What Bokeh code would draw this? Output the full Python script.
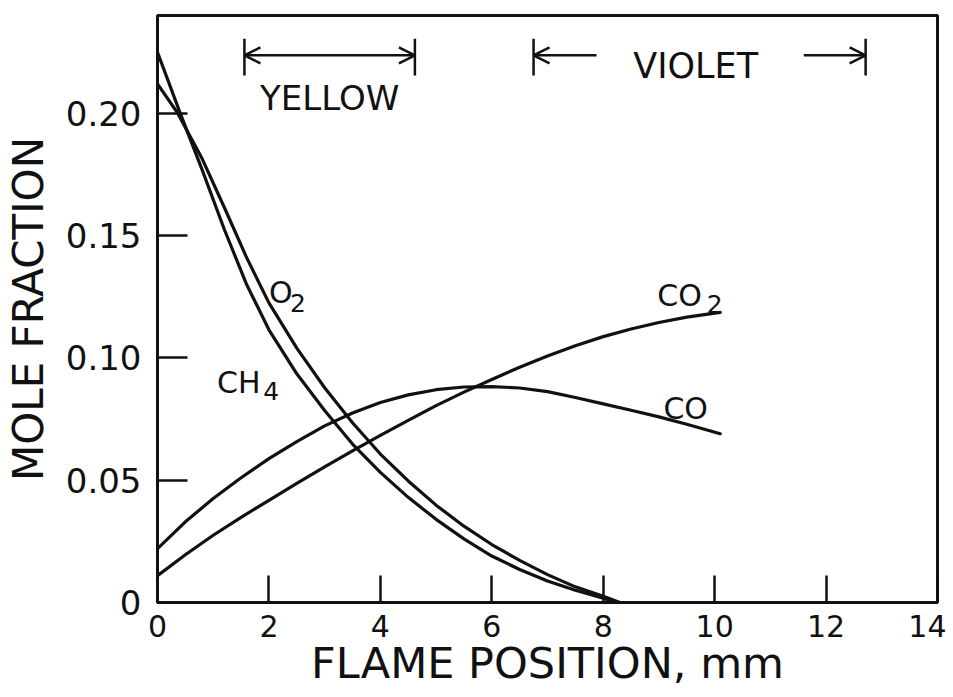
from bokeh.plotting import figure
from bokeh.models import Range1d, FixedTicker, Label, Arrow, OpenHead, ColumnDataSource
from bokeh.embed import file_html
from bokeh.resources import INLINE

# ---- data ----
ch4_x = [0, 0.4, 0.8, 1.2, 1.6, 2.0, 2.5, 3.0, 3.5, 4.0, 4.5, 5.0, 5.5, 6.0, 6.5, 7.0, 7.5, 8.0, 8.2]
ch4_y = [0.225, 0.2005, 0.177, 0.1525, 0.1300, 0.1115, 0.0935, 0.0785, 0.0648, 0.0532, 0.0430,
         0.0340, 0.0260, 0.0190, 0.0135, 0.0088, 0.0050, 0.0018, 0.0]

o2_x = [0, 0.35, 0.8, 1.2, 1.6, 2.0, 2.5, 3.0, 3.5, 4.0, 4.5, 5.0, 5.5, 6.0, 6.5, 7.0, 7.5, 8.0, 8.3]
o2_y = [0.212, 0.2005, 0.1815, 0.1615, 0.1410, 0.1225, 0.1040, 0.0878, 0.0735, 0.0607, 0.0497,
        0.0398, 0.0312, 0.0237, 0.0172, 0.0114, 0.0064, 0.0025, 0.0]

co_x = [0, 0.5, 1.0, 1.5, 2.0, 2.5, 3.0, 3.5, 4.0, 4.5, 5.0, 5.5, 6.0, 6.5, 7.0, 7.5, 8.0, 8.5, 9.0, 9.5, 10.1]
co_y = [0.022, 0.033, 0.0425, 0.051, 0.0588, 0.0658, 0.0722, 0.0775, 0.0818, 0.0849, 0.0870, 0.0881,
        0.0883, 0.0877, 0.0862, 0.0838, 0.0812, 0.0786, 0.0759, 0.0729, 0.0690]

co2_x = [0, 0.5, 1.0, 1.5, 2.0, 2.5, 3.0, 3.5, 4.0, 4.5, 5.0, 5.5, 6.0, 6.5, 7.0, 7.5, 8.0, 8.5, 9.0, 9.5, 10.1]
co2_y = [0.011, 0.0195, 0.0275, 0.0348, 0.0418, 0.0487, 0.0555, 0.0620, 0.0683, 0.0745, 0.0805, 0.0860,
         0.0912, 0.0962, 0.1008, 0.1050, 0.1087, 0.1118, 0.1145, 0.1167, 0.1186]

x_ticks = [0, 2, 4, 6, 8, 10, 12, 14]
x_tick_labels = ["0", "2", "4", "6", "8", "10", "12", "14"]
y_ticks = [0, 0.05, 0.10, 0.15, 0.20]
y_tick_labels = ["0", "0.05", "0.10", "0.15", "0.20"]

yellow_zone = [1.56, 4.62]   # mm
violet_zone = [6.75, 12.71]  # mm

FONT = "DejaVu Sans"
INK = "#111111"

p = figure(frame_width=780, frame_height=587, output_backend="svg", toolbar_location=None,
           x_range=Range1d(0, 14), y_range=Range1d(0, 0.24),
           min_border_left=156, min_border_right=9, min_border_top=15, min_border_bottom=95,
           background_fill_color="white", border_fill_color="white")
p.grid.visible = False
p.outline_line_color = INK
p.outline_line_width = 3

for ax in (p.xaxis[0], p.yaxis[0]):
    ax.axis_line_color = INK
    ax.axis_line_width = 3
    ax.major_tick_line_color = INK
    ax.major_tick_line_width = 2.5
    ax.major_tick_in = 27
    ax.major_tick_out = 0
    ax.minor_tick_line_color = None
    ax.major_label_text_font = FONT
    ax.major_label_text_color = INK
    ax.axis_label_text_font = FONT
    ax.axis_label_text_font_style = "normal"
    ax.axis_label_text_color = INK

p.xaxis.ticker = FixedTicker(ticks=x_ticks)
p.xaxis.major_label_overrides = {t: l for t, l in zip(x_ticks, x_tick_labels)}
p.xaxis.major_label_text_font_size = "30px"
p.xaxis.major_label_standoff = 12
p.xaxis.axis_label = "FLAME POSITION, mm"
p.xaxis.axis_label_text_font_size = "43px"
p.xaxis.axis_label_standoff = -2

p.yaxis.ticker = FixedTicker(ticks=y_ticks)
p.yaxis.major_label_overrides = {t: l for t, l in zip(y_ticks, y_tick_labels)}
p.yaxis.major_label_text_font_size = "34px"
p.yaxis.major_label_standoff = 16
p.yaxis.major_tick_in = 30
p.yaxis.axis_label = "MOLE FRACTION"
p.yaxis.axis_label_text_font_size = "42px"
p.yaxis.axis_label_standoff = 10

# ---- curves ----
for xs, ys in ((ch4_x, ch4_y), (o2_x, o2_y), (co_x, co_y), (co2_x, co2_y)):
    p.line(xs, ys, line_color=INK, line_width=3.2, line_join="round", line_cap="round")

# ---- curve labels ----
def lab(x, y, t, size, align="left"):
    p.add_layout(Label(x=x, y=y, text=t, text_font=FONT, text_font_size=size, text_color=INK,
                       text_align=align, text_baseline="alphabetic"))

lab(2.0, 0.1269, "O", "30px")
lab(2.38, 0.1226, "2", "25px")
lab(1.07, 0.0901, "CH", "30px")
lab(1.90, 0.0866, "4", "25px")
lab(8.97, 0.1255, "CO", "30px")
lab(9.86, 0.1220, "2", "25px")
lab(9.08, 0.0793, "CO", "30px")

# ---- flame-zone brackets ----
bar_lo, bar_hi, arrow_y = 0.2155, 0.2305, 0.2237
bars = ColumnDataSource(dict(x=yellow_zone + violet_zone))
p.segment(x0="x", x1="x", y0=bar_lo, y1=bar_hi, source=bars, line_color=INK, line_width=2.5)

def head():
    return OpenHead(size=16, line_width=2.5, line_color=INK)

p.add_layout(Arrow(x_start=yellow_zone[0], x_end=yellow_zone[1], y_start=arrow_y, y_end=arrow_y,
                   start=head(), end=head(), line_color=INK, line_width=2.5))
p.add_layout(Arrow(x_start=7.88, x_end=violet_zone[0], y_start=arrow_y, y_end=arrow_y,
                   end=head(), line_color=INK, line_width=2.5))
p.add_layout(Arrow(x_start=11.6, x_end=violet_zone[1], y_start=arrow_y, y_end=arrow_y,
                   end=head(), line_color=INK, line_width=2.5))

p.add_layout(Label(x=sum(yellow_zone) / 2, y=0.2061, text="YELLOW", text_font=FONT, text_font_size="34px",
                   text_color=INK, text_align="center", text_baseline="alphabetic"))
p.add_layout(Label(x=9.66, y=0.2195, text="VIOLET", text_font=FONT, text_font_size="35px",
                   text_color=INK, text_align="center", text_baseline="alphabetic"))

open("out.html", "w").write(file_html(p, INLINE))
